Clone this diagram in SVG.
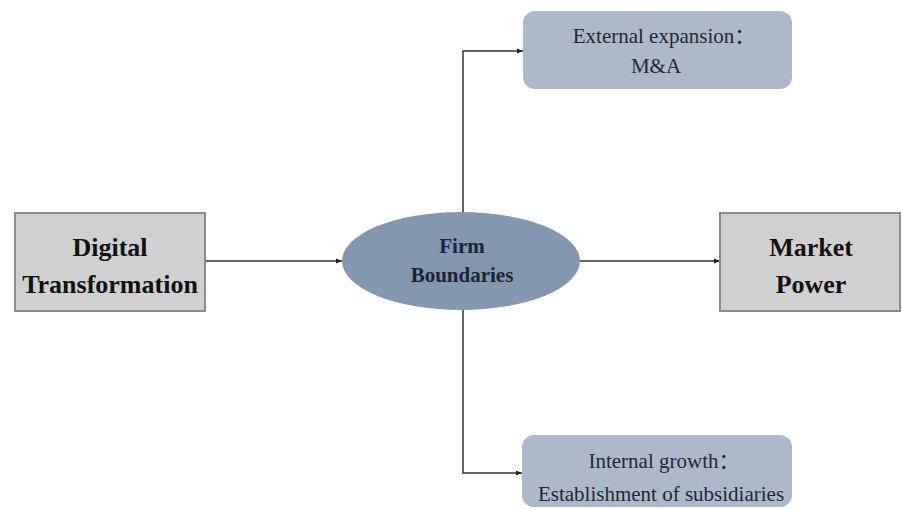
<svg xmlns="http://www.w3.org/2000/svg" width="902" height="509" viewBox="0 0 902 509">
<style>
.box{fill:#d0d0d0;stroke:#8c8c8c;stroke-width:2}
.rbox{fill:#adb9ca}
.big{font-family:"Liberation Serif",serif;font-weight:bold;font-size:26px;fill:#111;text-anchor:middle}
.mid{font-family:"Liberation Serif",serif;font-weight:bold;font-size:21px;fill:#1a2535;text-anchor:middle}
.sm{font-family:"Liberation Serif","Noto Sans CJK SC",serif;font-size:21px;fill:#222833;text-anchor:middle}
.conn{fill:none;stroke:#333;stroke-width:1.5}
</style>
<defs>
<marker id="ah" viewBox="0 0 10 10" refX="10" refY="5" markerWidth="6" markerHeight="6" orient="auto" markerUnits="userSpaceOnUse">
<path d="M0,1 L10,5 L0,9 z" fill="#222"/>
</marker>
</defs>
<g id="connectors">
<line class="conn" x1="205" y1="261" x2="342" y2="261" marker-end="url(#ah)"/>
<line class="conn" x1="580" y1="261" x2="720" y2="261" marker-end="url(#ah)"/>
<polyline class="conn" points="463,212 463,51 523,51" marker-end="url(#ah)"/>
<polyline class="conn" points="463,310 463,473 522,473" marker-end="url(#ah)"/>
</g>
<g id="digital">
<rect class="box" x="15" y="213" width="190" height="98"/>
<text class="big" x="110" y="256">Digital</text>
<text class="big" x="110" y="293">Transformation</text>
</g>
<g id="firm">
<ellipse cx="461" cy="261" rx="119" ry="49" fill="#8497b0"/>
<text class="mid" x="462" y="253">Firm</text>
<text class="mid" x="462" y="282">Boundaries</text>
</g>
<g id="market">
<rect class="box" x="720" y="213" width="180" height="98"/>
<text class="big" x="811" y="256">Market</text>
<text class="big" x="811" y="293">Power</text>
</g>
<g id="external">
<rect class="rbox" x="523" y="11" width="269" height="78" rx="12"/>
<text class="sm" x="664" y="43">External expansion：</text>
<text class="sm" x="656" y="73">M&amp;A</text>
</g>
<g id="internal">
<rect class="rbox" x="522" y="435" width="270" height="72" rx="12"/>
<text class="sm" x="664" y="468">Internal growth：</text>
<text class="sm" x="661" y="501">Establishment of subsidiaries</text>
</g>
</svg>
